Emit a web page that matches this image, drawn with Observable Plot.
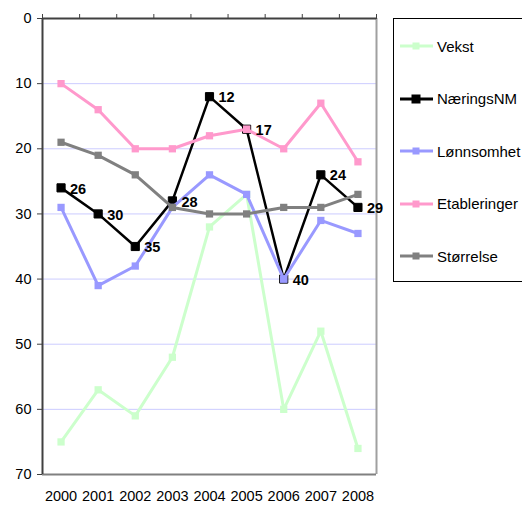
<!DOCTYPE html>
<html><head><meta charset="utf-8">
<script src="https://cdn.jsdelivr.net/npm/d3@7"></script>
<script src="https://cdn.jsdelivr.net/npm/@observablehq/plot@0.6"></script>
<style>
body{margin:0;background:#fff;font-family:"Liberation Sans",Arial,sans-serif;}
#wrap{position:relative;width:522px;height:505px;overflow:hidden;}
#legend{position:absolute;left:393px;top:18px;width:150px;height:264px;border:1px solid #000;box-sizing:border-box;background:#fff;}
.item{position:absolute;left:6px;height:20px;display:flex;align-items:center;font-size:15px;white-space:nowrap;color:#000;}
.item svg{margin-right:4px;}
</style></head><body><div id="wrap"><div id="plot"></div><div id="legend"></div></div>
<script>
const years = [2000, 2001, 2002, 2003, 2004, 2005, 2006, 2007, 2008];
const seriesNames = ["Vekst", "NæringsNM", "Lønnsomhet", "Etableringer", "Størrelse"];
const seriesColors = ["#ccffcc", "#000000", "#9999ff", "#ff99cc", "#808080"];
const vekst = [65, 57, 61, 52, 32, 27, 60, 48, 66];
const naeringsNM = [26, 30, 35, 28, 12, 17, 40, 24, 29];
const lonnsomhet = [29, 41, 38, 29, 24, 27, 40, 31, 33];
const etableringer = [10, 14, 20, 20, 18, 17, 20, 13, 22];
const storrelse = [19, 21, 24, 29, 30, 30, 29, 29, 27];
const naeringsMarkerFill = ["#000000", "#000000", "#000000", "#000000", "#000000", "#ff99cc", "#9999ff", "#000000", "#000000"];
const yTicks = [0, 10, 20, 30, 40, 50, 60, 70];

const seriesValues = [vekst, naeringsNM, lonnsomhet, etableringer, storrelse];
const boundaries = years.map(y => y - 0.5).concat([years[years.length - 1] + 0.5]);

const marks = [
  Plot.ruleY(yTicks.filter(t => t > 0 && t < 70), {y: d => d, stroke: "#ccccff", strokeWidth: 1}),
  Plot.ruleX([boundaries[boundaries.length - 1]], {stroke: "#a0a0a0", strokeWidth: 2}),
  Plot.ruleY([70], {stroke: "#808080", strokeWidth: 2}),
  Plot.axisY({ticks: yTicks, tickSize: 5, tickPadding: 6, stroke: "#404040", fill: "#000", fontSize: 14.5, tickFormat: d => String(d), label: null}),
  Plot.axisX({anchor: "top", ticks: boundaries, tickSize: 5, stroke: "#404040", tickFormat: () => "", label: null}),
  Plot.axisX({anchor: "bottom", ticks: years, tickSize: 0, tickPadding: 16, fill: "#000", fontSize: 14.5, tickFormat: d => String(d), label: null}),
  Plot.ruleX([boundaries[0]], {stroke: "#404040", strokeWidth: 2}),
  Plot.ruleY([0], {stroke: "#404040", strokeWidth: 2})
];

seriesNames.forEach((name, si) => {
  const data = years.map((yr, i) => ({year: yr, value: seriesValues[si][i], i}));
  const color = seriesColors[si];
  marks.push(Plot.line(data, {x: "year", y: "value", stroke: color, strokeWidth: si === 1 ? 2.5 : 3}));
  if (si === 1) {
    marks.push(Plot.dot(data, {x: "year", y: "value", symbol: "square", r: 4.6, fill: d => naeringsMarkerFill[d.i], stroke: "#000", strokeWidth: 1}));
  } else {
    marks.push(Plot.dot(data, {x: "year", y: "value", symbol: "square", r: 4.1, fill: color, stroke: "none"}));
  }
});

const labelData = years.map((yr, i) => ({year: yr, value: naeringsNM[i]}));
marks.push(Plot.text(labelData, {x: "year", y: "value", text: d => String(d.value), dx: 9, textAnchor: "start", fontWeight: "bold", fontSize: 14.5, fill: "#000", dy: 1}));

const chart = Plot.plot({
  width: 522, height: 505,
  marginLeft: 42, marginRight: 146, marginTop: 18, marginBottom: 31,
  style: {fontFamily: "'Liberation Sans', Arial, sans-serif", fontSize: "14.5px", background: "#fff", color: "#000", overflow: "visible"},
  x: {type: "linear", domain: [boundaries[0], boundaries[boundaries.length - 1]], label: null},
  y: {domain: [0, 70], reverse: true, label: null},
  marks
});
document.getElementById("plot").appendChild(chart);

const legend = document.getElementById("legend");
seriesNames.forEach((name, si) => {
  const item = document.createElement("div");
  item.className = "item";
  item.style.top = (17 + si * 52.5) + "px";
  const c = seriesColors[si];
  const marker = si === 1
    ? `<rect x="12" y="6" width="8" height="8" fill="${c}" stroke="#000" stroke-width="1"/>`
    : `<rect x="12.5" y="6.5" width="7" height="7" fill="${c}"/>`;
  item.innerHTML = `<svg width="33" height="20"><line x1="0" y1="10" x2="33" y2="10" stroke="${c}" stroke-width="3"/>${marker}</svg><span>${name}</span>`;
  legend.appendChild(item);
});
</script>
</body></html>
